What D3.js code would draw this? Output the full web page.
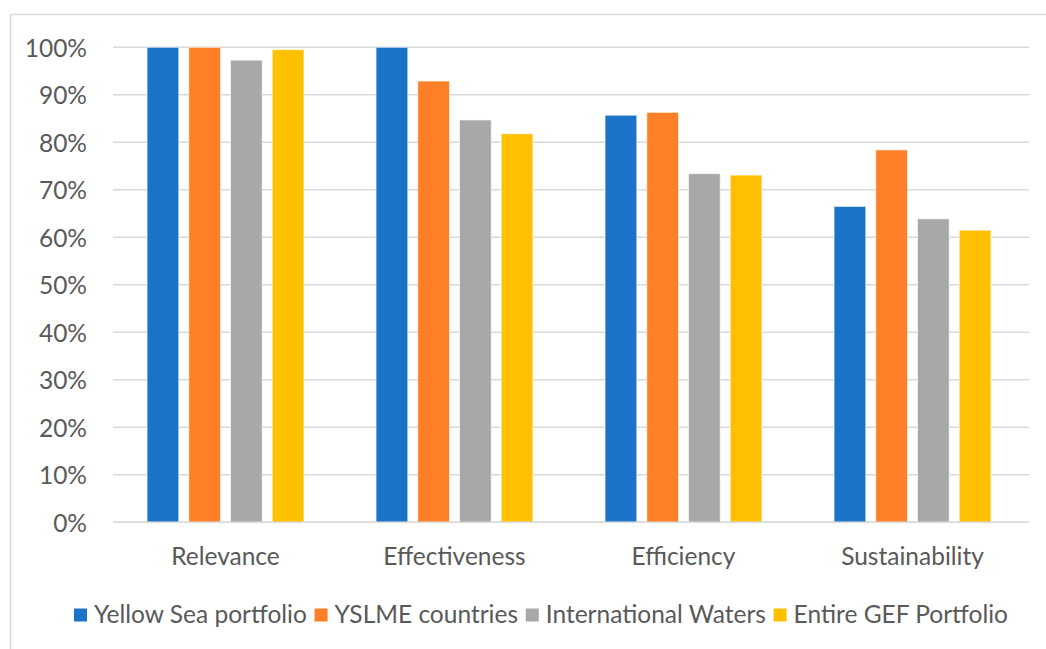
<!DOCTYPE html>
<html>
<head>
<meta charset="utf-8">
<script src="https://cdn.jsdelivr.net/npm/d3@7"></script>
<style>
  html, body { margin: 0; padding: 0; background: #fff; }
  svg { display: block; }
  text { font-family: Lato, "Open Sans", sans-serif; fill: #595959; }
</style>
</head>
<body>
<svg id="chart" width="1046" height="649"></svg>
<script>
const categories = ["Relevance", "Effectiveness", "Efficiency", "Sustainability"];
const seriesNames = ["Yellow Sea portfolio", "YSLME countries", "International Waters", "Entire GEF Portfolio"];
const seriesColors = ["#1a73c6", "#fd7f27", "#a8a8a8", "#ffc000"];
const yellowSea = [100, 100, 85.7, 66.5];
const yslme = [100, 92.9, 86.3, 78.4];
const intlWaters = [97.3, 84.7, 73.4, 63.9];
const entireGEF = [99.5, 81.8, 73.1, 61.5];
const yTicks = [0, 10, 20, 30, 40, 50, 60, 70, 80, 90, 100];

const seriesValues = [yellowSea, yslme, intlWaters, entireGEF];

const svg = d3.select("#chart");
const W = 1046, H = 649;
const plot = { left: 113, right: 1029, top: 47.3, bottom: 522.3 };

// outer frame (left + top only visible)
svg.append("path")
  .attr("d", `M10.5,${H} L10.5,14.5 L${W},14.5`)
  .attr("fill", "none").attr("stroke", "#d9d9d9").attr("stroke-width", 1.5);

const x0 = d3.scaleBand().domain(categories).range([plot.left - 2, plot.right - 2]).paddingInner(0.315).paddingOuter(0.1575);
const x1 = d3.scaleBand().domain(seriesNames).range([0, x0.bandwidth()]).paddingInner(0.24);
const y = d3.scaleLinear().domain([0, 100]).range([plot.bottom, plot.top]);

// gridlines
svg.append("g").selectAll("line").data(yTicks).join("line")
  .attr("x1", plot.left).attr("x2", plot.right)
  .attr("y1", d => y(d)).attr("y2", d => y(d))
  .attr("stroke", "#d9d9d9").attr("stroke-width", 1.5);

// y tick labels
const tickG = svg.append("g");
tickG.selectAll("text").data(yTicks).join("text")
  .attr("x", 87).attr("y", d => y(d))
  .attr("text-anchor", "end").attr("dominant-baseline", "central")
  .attr("font-size", 20)
  .text(d => d + "%");

// bars
const groups = svg.append("g").selectAll("g").data(categories).join("g")
  .attr("transform", d => `translate(${x0(d)},0)`);
groups.selectAll("rect")
  .data((c, ci) => seriesNames.map((s, si) => ({ s, si, v: seriesValues[si][ci] })))
  .join("rect")
  .attr("x", d => x1(d.s)).attr("width", x1.bandwidth())
  .attr("y", d => y(d.v)).attr("height", d => y(0) - y(d.v))
  .attr("fill", d => seriesColors[d.si])
  .attr("stroke", "#ffffff").attr("stroke-opacity", 0.6).attr("stroke-width", 1);

// axis baseline
svg.append("line").attr("x1", plot.left).attr("x2", plot.right)
  .attr("y1", y(0)).attr("y2", y(0)).attr("stroke", "#d9d9d9").attr("stroke-width", 1.5);

// category labels
svg.append("g").selectAll("text").data(categories).join("text")
  .attr("x", d => x0(d) + x0.bandwidth() / 2).attr("y", 565)
  .attr("text-anchor", "middle").attr("font-size", 20)
  .text(d => d);

// legend
const legend = svg.append("g");
const items = legend.selectAll("g").data(seriesNames).join("g");
items.append("rect").attr("width", 13).attr("height", 13).attr("y", 608.5)
  .attr("fill", (d, i) => seriesColors[i]);
items.append("text").attr("x", 20).attr("y", 623).attr("font-size", 20).text(d => d);

// scale fonts to match reference text widths (Calibri-like metrics)
const probe = legend.select("text").node();
const w0 = probe.getComputedTextLength();
const fs = 20 * 213 / w0;
svg.selectAll("text").attr("font-size", fs);

const widths = [];
items.each(function () {
  const t = d3.select(this).select("text").node();
  widths.push(20 + t.getComputedTextLength());
});
const legendLeft = 74, legendRight = 1008;
const gap = Math.max(4, (legendRight - legendLeft - d3.sum(widths)) / (widths.length - 1));
let start = legendLeft;
items.attr("transform", (d, i) => {
  const tx = start;
  start += widths[i] + gap;
  return `translate(${tx},0)`;
});
</script>
</body>
</html>
